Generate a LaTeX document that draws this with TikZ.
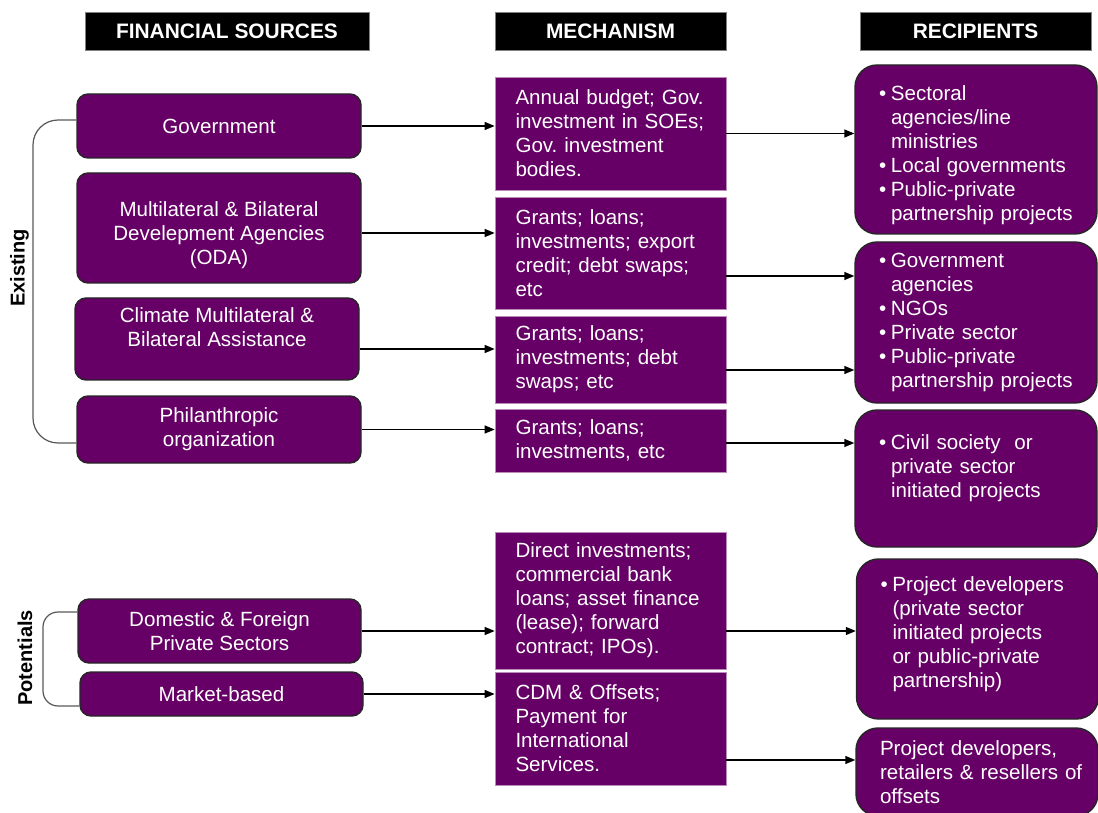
\documentclass[tikz,border=0pt]{standalone}
\usepackage{fontspec}
\setmainfont{Liberation Sans}
\usepackage{xcolor}
\usepackage{tikz}
\usetikzlibrary{arrows.meta}

\definecolor{plum}{HTML}{660066}
\definecolor{edgegray}{HTML}{262626}
\definecolor{bracegray}{HTML}{595959}

\newcommand{\recbul}{\makebox[0.24cm][l]{\textbullet}}
\newcommand{\recind}{\hspace*{0.24cm}}
\frenchspacing

\begin{document}
\begin{tikzpicture}[
    font=\fontsize{11.7pt}{13.66pt}\selectfont,
    header/.style={fill=black, draw=gray, text=white, minimum width=4.62cm, minimum height=0.76cm,
                   inner sep=0pt, font=\fontsize{11.9pt}{13.66pt}\selectfont\bfseries},
    source/.style={fill=plum, draw=edgegray, line width=0.8pt, rounded corners=0.22cm, text=white,
                   align=center, minimum width=5.68cm, inner sep=0pt},
    mechbox/.style={fill=plum, draw=plum!45, line width=0.4pt, text=white, align=left,
                    text width=3.8cm, inner xsep=0.41cm, inner ysep=0pt},
    recbox/.style={fill=plum, draw=edgegray, line width=0.8pt, rounded corners=0.44cm, text=white,
                   align=left, text width=3.88cm, inner xsep=0.48cm, inner ysep=0pt},
    flow/.style={line width=0.8pt, -{Triangle[length=0.2cm, width=0.16cm]}},
    brace/.style={draw=bracegray, line width=0.7pt},
    side/.style={rotate=90, font=\fontsize{11.4pt}{13pt}\selectfont\bfseries}
  ]

  \useasboundingbox (0, 0) rectangle (21.96, 16.24);

  % column headers
  \node [header, minimum width=5.68cm] (hsrc)  at (4.54,  15.62) {FINANCIAL SOURCES};
  \node [header]                       (hmech) at (12.21, 15.62) {MECHANISM};
  \node [header]                       (hrec)  at (19.51, 15.62) {RECIPIENTS};

  % financial sources
  \node [source, minimum height=1.28cm] (gov)  at (4.38, 13.72) {Government};
  \node [source, minimum height=2.20cm] (oda)  at (4.38, 11.68) {\rule{0pt}{0.58cm}Multilateral \& Bilateral\\Develepment Agencies\\(ODA)};
  \node [source, minimum height=1.64cm] (clim) at (4.34,  9.46) {Climate Multilateral \&\\Bilateral Assistance\\~};
  \node [source, minimum height=1.34cm] (phil) at (4.38,  7.65) {Philanthropic\\organization};
  \node [source, minimum height=1.28cm, minimum width=5.66cm] (dom) at (4.39, 3.62) {Domestic \& Foreign\\Private Sectors};
  \node [source, minimum height=0.88cm, minimum width=5.66cm] (mkt) at (4.43, 2.36) {Market-based};

  % mechanisms
  \node [mechbox, minimum height=2.26cm] (m1) at (12.21, 13.57) {Annual budget; Gov.\\investment in SOEs;\\Gov. investment\\bodies.};
  \node [mechbox, minimum height=2.24cm] (m2) at (12.21, 11.18) {Grants; loans;\\investments; export\\credit; debt swaps;\\etc};
  \node [mechbox, minimum height=1.74cm] (m3) at (12.21,  9.05) {Grants; loans;\\investments; debt\\swaps; etc};
  \node [mechbox, minimum height=1.26cm] (m4) at (12.21,  7.43) {Grants; loans;\\investments, etc};
  \node [mechbox, minimum height=2.74cm] (m5) at (12.21,  4.23) {Direct investments;\\commercial bank\\loans; asset finance\\(lease); forward\\contract; IPOs).};
  \node [mechbox, minimum height=2.26cm] (m6) at (12.21,  1.67) {CDM \& Offsets;\\Payment for\\International\\Services.};

  % recipients
  \node [recbox, minimum height=3.38cm] (r1) at (19.52, 13.25) {\recbul\rule{0pt}{0.54cm}Sectoral\\\recind agencies/line\\\recind ministries\\\recbul Local governments\\\recbul Public-private\\\mbox{\recind partnership projects}};
  \node [recbox, minimum height=3.22cm] (r2) at (19.52,  9.79) {\recbul Government\\\recind agencies\\\recbul NGOs\\\recbul Private sector\\\recbul Public-private\\\mbox{\recind partnership projects}};
  \node [recbox, minimum height=2.74cm] (r3) at (19.52,  6.67) {\recbul Civil society~ or\\\recind private sector\\\recind initiated projects\\~};
  \node [recbox, minimum height=3.20cm] (r4) at (19.55,  3.46) {\recbul Project developers\\\recind (private sector\\\recind initiated projects\\\recind or public-private\\\recind partnership)\rule[-0.29cm]{0pt}{0pt}};
  \node [recbox, minimum height=1.76cm] (r5) at (19.54,  0.80) {Project developers,\\\mbox{retailers \& resellers of}\\offsets};

  % group labels
  \node [side] (exist) at (0.39, 10.88) {Existing};
  \node [side] (poten) at (0.50,  3.08) {Potentials};

  % brackets
  \coordinate (exbar)  at (0.66, 10.00);
  \coordinate (potbar) at (0.86,  3.18);
  \draw [brace, rounded corners=0.5cm] ([yshift=0.12cm]gov.west) -| (exbar) |- ([yshift=-0.27cm]phil.west);
  \draw [brace, rounded corners=0.3cm] ([yshift=0.38cm]dom.west) -| (potbar) |- ([yshift=-0.24cm]mkt.west);

  % sources to mechanisms
  \draw [flow] (gov.east)                 -- (gov.east -| m1.west);
  \draw [flow] ([yshift=-0.1cm]oda.east)  -- ([yshift=-0.1cm]oda.east -| m2.west);
  \draw [flow] ([yshift=-0.2cm]clim.east) -- ([yshift=-0.2cm]clim.east -| m3.west);
  \draw [flow] (phil.east)                -- (phil.east -| m4.west);
  \draw [flow] (dom.east)                 -- (dom.east -| m5.west);
  \draw [flow] (mkt.east)                 -- (mkt.east -| m6.west);

  % mechanisms to recipients
  \draw [flow] (m1.east)                  -- (m1.east -| r1.west);
  \draw [flow] ([yshift=-0.46cm]m2.east)  -- ([yshift=-0.46cm]m2.east -| r2.west);
  \draw [flow] ([yshift=-0.21cm]m3.east)  -- ([yshift=-0.21cm]m3.east -| r2.west);
  \draw [flow] ([yshift=-0.05cm]m4.east)  -- ([yshift=-0.05cm]m4.east -| r3.west);
  \draw [flow] (m5.east |- dom.east)      -- (dom.east -| r4.west);
  \draw [flow] ([yshift=-0.63cm]m6.east)  -- ([yshift=-0.63cm]m6.east -| r5.west);

\end{tikzpicture}
\end{document}
